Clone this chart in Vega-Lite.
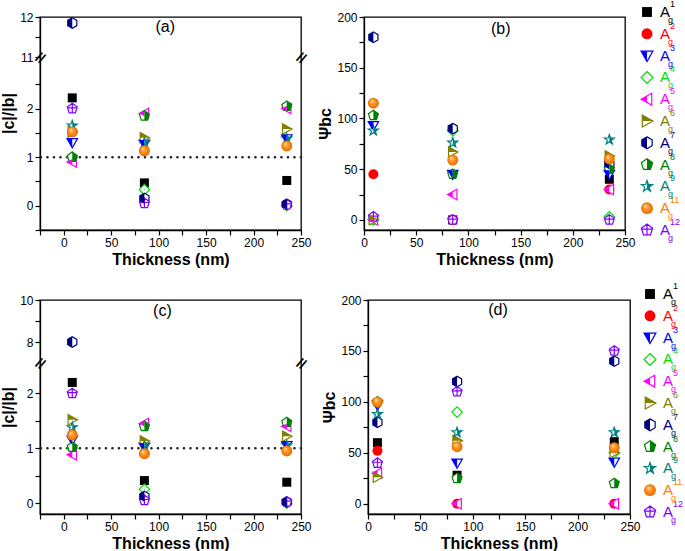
{
"$schema":"https://vega.github.io/schema/vega-lite/v6.json",
"padding":{"left":0,"top":0,"right":0,"bottom":0},
"datasets":{
"pts":[
{"p":"a","s":"1","t":9,"v":2.22},{"p":"a","s":"1","t":85,"v":0.47},{"p":"a","s":"1","t":235,"v":0.52},
{"p":"a","s":"2","t":9,"v":1.52},{"p":"a","s":"2","t":85,"v":1.13},{"p":"a","s":"2","t":235,"v":1.23},
{"p":"a","s":"3","t":9,"v":1.3},{"p":"a","s":"3","t":85,"v":1.27},{"p":"a","s":"3","t":235,"v":1.38},
{"p":"a","s":"4","t":9,"v":1.0},{"p":"a","s":"4","t":85,"v":0.33},{"p":"a","s":"4","t":235,"v":0.0},
{"p":"a","s":"5","t":9,"v":0.9},{"p":"a","s":"5","t":85,"v":1.9},{"p":"a","s":"5","t":235,"v":2.0},
{"p":"a","s":"6","t":9,"v":1.52},{"p":"a","s":"6","t":85,"v":1.4},{"p":"a","s":"6","t":235,"v":1.58},
{"p":"a","s":"7","t":9,"v":11.85},{"p":"a","s":"7","t":85,"v":0.15},{"p":"a","s":"7","t":235,"v":0.03},
{"p":"a","s":"8","t":9,"v":1.0},{"p":"a","s":"8","t":85,"v":1.85},{"p":"a","s":"8","t":235,"v":2.05},
{"p":"a","s":"9","t":9,"v":1.65},{"p":"a","s":"9","t":85,"v":1.3},{"p":"a","s":"9","t":235,"v":1.38},
{"p":"a","s":"11","t":9,"v":1.52},{"p":"a","s":"11","t":85,"v":1.13},{"p":"a","s":"11","t":235,"v":1.23},
{"p":"a","s":"12","t":9,"v":2.0},{"p":"a","s":"12","t":85,"v":0.05},{"p":"a","s":"12","t":235,"v":0.02},
{"p":"b","s":"1","t":9,"v":0},{"p":"b","s":"1","t":85,"v":0},{"p":"b","s":"1","t":235,"v":40},
{"p":"b","s":"2","t":9,"v":45},{"p":"b","s":"2","t":85,"v":0},{"p":"b","s":"2","t":235,"v":30},
{"p":"b","s":"3","t":9,"v":93},{"p":"b","s":"3","t":85,"v":45},{"p":"b","s":"3","t":235,"v":45},
{"p":"b","s":"4","t":9,"v":0},{"p":"b","s":"4","t":85,"v":88},{"p":"b","s":"4","t":235,"v":3},
{"p":"b","s":"5","t":9,"v":0},{"p":"b","s":"5","t":85,"v":25},{"p":"b","s":"5","t":235,"v":30},
{"p":"b","s":"6","t":9,"v":0},{"p":"b","s":"6","t":85,"v":67},{"p":"b","s":"6","t":235,"v":63},
{"p":"b","s":"7","t":9,"v":180},{"p":"b","s":"7","t":85,"v":90},{"p":"b","s":"7","t":235,"v":55},
{"p":"b","s":"8","t":9,"v":103},{"p":"b","s":"8","t":85,"v":45},{"p":"b","s":"8","t":235,"v":50},
{"p":"b","s":"9","t":9,"v":88},{"p":"b","s":"9","t":85,"v":76},{"p":"b","s":"9","t":235,"v":79},
{"p":"b","s":"11","t":9,"v":115},{"p":"b","s":"11","t":85,"v":59},{"p":"b","s":"11","t":235,"v":60},
{"p":"b","s":"12","t":9,"v":3},{"p":"b","s":"12","t":85,"v":0},{"p":"b","s":"12","t":235,"v":0},
{"p":"c","s":"1","t":9,"v":2.2},{"p":"c","s":"1","t":85,"v":0.41},{"p":"c","s":"1","t":235,"v":0.38},
{"p":"c","s":"2","t":9,"v":1.24},{"p":"c","s":"2","t":85,"v":0.9},{"p":"c","s":"2","t":235,"v":0.95},
{"p":"c","s":"3","t":9,"v":1.15},{"p":"c","s":"3","t":85,"v":1.02},{"p":"c","s":"3","t":235,"v":1.05},
{"p":"c","s":"4","t":9,"v":1.0},{"p":"c","s":"4","t":85,"v":0.25},{"p":"c","s":"4","t":235,"v":0.0},
{"p":"c","s":"5","t":9,"v":0.88},{"p":"c","s":"5","t":85,"v":1.45},{"p":"c","s":"5","t":235,"v":1.4},
{"p":"c","s":"6","t":9,"v":1.52},{"p":"c","s":"6","t":85,"v":1.13},{"p":"c","s":"6","t":235,"v":1.22},
{"p":"c","s":"7","t":9,"v":8.0},{"p":"c","s":"7","t":85,"v":0.12},{"p":"c","s":"7","t":235,"v":0.02},
{"p":"c","s":"8","t":9,"v":1.02},{"p":"c","s":"8","t":85,"v":1.4},{"p":"c","s":"8","t":235,"v":1.47},
{"p":"c","s":"9","t":9,"v":1.38},{"p":"c","s":"9","t":85,"v":1.05},{"p":"c","s":"9","t":235,"v":1.05},
{"p":"c","s":"11","t":9,"v":1.24},{"p":"c","s":"11","t":85,"v":0.9},{"p":"c","s":"11","t":235,"v":0.95},
{"p":"c","s":"12","t":9,"v":2.0},{"p":"c","s":"12","t":85,"v":0.05},{"p":"c","s":"12","t":235,"v":0.02},
{"p":"d","s":"1","t":9,"v":60},{"p":"d","s":"1","t":85,"v":28},{"p":"d","s":"1","t":235,"v":61},
{"p":"d","s":"2","t":9,"v":52},{"p":"d","s":"2","t":85,"v":0},{"p":"d","s":"2","t":235,"v":0},
{"p":"d","s":"3","t":9,"v":97},{"p":"d","s":"3","t":85,"v":40},{"p":"d","s":"3","t":235,"v":41},
{"p":"d","s":"4","t":9,"v":100},{"p":"d","s":"4","t":85,"v":90},{"p":"d","s":"4","t":235,"v":50},
{"p":"d","s":"5","t":9,"v":30},{"p":"d","s":"5","t":85,"v":0},{"p":"d","s":"5","t":235,"v":0},
{"p":"d","s":"6","t":9,"v":26},{"p":"d","s":"6","t":85,"v":62},{"p":"d","s":"6","t":235,"v":50},
{"p":"d","s":"7","t":9,"v":80},{"p":"d","s":"7","t":85,"v":120},{"p":"d","s":"7","t":235,"v":140},
{"p":"d","s":"8","t":9,"v":100},{"p":"d","s":"8","t":85,"v":25},{"p":"d","s":"8","t":235,"v":20},
{"p":"d","s":"9","t":9,"v":88},{"p":"d","s":"9","t":85,"v":70},{"p":"d","s":"9","t":235,"v":70},
{"p":"d","s":"11","t":9,"v":100},{"p":"d","s":"11","t":85,"v":56},{"p":"d","s":"11","t":235,"v":55},
{"p":"d","s":"12","t":9,"v":40},{"p":"d","s":"12","t":85,"v":110},{"p":"d","s":"12","t":235,"v":150}
],
"leg":[{"s":"1"},{"s":"2"},{"s":"3"},{"s":"4"},{"s":"5"},{"s":"6"},{"s":"7"},{"s":"8"},{"s":"9"},{"s":"11"},{"s":"12"}]
},
"config":{
"view":{"stroke":"#000","strokeWidth":1.3},
"legend":{"disable":true},
"font":"Liberation Sans",
"text":{"font":"Liberation Sans","color":"#000"},
"axis":{"domainColor":"#000","domainWidth":1.3,"tickColor":"#000","tickWidth":1.2,"tickSize":5,"labelFont":"Liberation Sans","labelFontSize":12,"labelColor":"#000","titleFont":"Liberation Sans","titleFontSize":16,"titleFontWeight":"bold","titleColor":"#000","grid":false,"labelPadding":2,"titlePadding":3,"labelOverlap":false,"labelFlush":false}
},
"spacing":14,
"resolve":{"scale":{"shape":"independent"}},
"vconcat":[
{"hconcat":[
  {"width":261,"height":213,"data":{"name":"pts"},"resolve":{"scale":{"shape":"independent"}},
   "layer":[
    {"data":{"values":[{}]},"mark":{"type":"rule","strokeWidth":2.5,"color":"#222","strokeDash":[0.1,6.4],"strokeCap":"round"},
     "encoding":{"y":{"datum":1,"type":"quantitative","scale":{"domain":[-0.5,3,11,12],"range":[213,43,40,0],"nice":false,"zero":false},"axis":{"values":[-0.5,0,0.5,1,1.5,2,2.5,11,11.5,12],"format":"d","labelExpr":"datum.value%1==0?datum.label:''","title":"|c|/|b|","titleY":96}}}},
    {"transform":[{"filter":"datum.p=='a'&&(datum.s=='1'||datum.s=='2')"}],"mark":{"type":"point","filled":true,"opacity":1,"strokeWidth":0,"size":100},
     "encoding":{"x":{"field":"t","type":"quantitative","scale":{"domain":[-25,250],"nice":false,"zero":false},"axis":{"values":[-25,0,25,50,75,100,125,150,175,200,225,250],"labelExpr":"datum.value>=0&&datum.value%50==0?datum.label:''","title":"Thickness (nm)"}},
      "y":{"field":"v","type":"quantitative","scale":{"domain":[-0.5,3,11,12],"range":[213,43,40,0],"nice":false,"zero":false},"axis":{"values":[-0.5,0,0.5,1,1.5,2,2.5,11,11.5,12],"format":"d","labelExpr":"datum.value%1==0?datum.label:''","title":"|c|/|b|","titleY":96}},
      "shape":{"field":"s","type":"nominal","scale":{"domain":["1","2"],"range":["M-0.9,-0.9L0.9,-0.9L0.9,0.9L-0.9,0.9Z","circle"]},"legend":null},
      "fill":{"field":"s","type":"nominal","scale":{"domain":["1","2","3","4","5","6","7","8","9","11","12"],"range":["#000000","#ff0000","#0000ff","#00dd00","#ff00ff","#808000","#000080","#008000","#008080","#ff8000","#8000ff"]},"legend":null}}},
    {"transform":[{"filter":"datum.p=='a'&&indexof(['3','4','5','6','7','8','9','12'],datum.s)>=0"}],"mark":{"type":"point","filled":true,"fill":"white","opacity":1,"strokeWidth":1.2,"size":110},
     "encoding":{"x":{"field":"t","type":"quantitative","scale":{"domain":[-25,250],"nice":false,"zero":false},"axis":{"values":[-25,0,25,50,75,100,125,150,175,200,225,250],"labelExpr":"datum.value>=0&&datum.value%50==0?datum.label:''","title":"Thickness (nm)"}},
      "y":{"field":"v","type":"quantitative","scale":{"domain":[-0.5,3,11,12],"range":[213,43,40,0],"nice":false,"zero":false},"axis":{"values":[-0.5,0,0.5,1,1.5,2,2.5,11,11.5,12],"format":"d","labelExpr":"datum.value%1==0?datum.label:''","title":"|c|/|b|","titleY":96}},
      "shape":{"field":"s","type":"nominal","scale":{"domain":["3","4","5","6","7","8","9","12"],"range":["M-1,-0.75L1,-0.75L0,1Z","M0,-1L1,0L0,1L-1,0ZM-0.06,0L0.06,0","M-1,0L0.8,-1L0.8,1Z","M1,0L-0.8,-1L-0.8,1Z","M0,-1L0.87,-0.5L0.87,0.5L0,1L-0.87,0.5L-0.87,-0.5Z","M0,-1L0.95,-0.31L0.59,0.81L-0.59,0.81L-0.95,-0.31Z","M0,-1L0.235,-0.324L0.951,-0.309L0.38,0.124L0.588,0.809L0,0.4L-0.588,0.809L-0.38,0.124L-0.951,-0.309L-0.235,-0.324Z","M0,-1L0.95,-0.31L0.59,0.81L-0.59,0.81L-0.95,-0.31ZM0,-1L0,0.81M-0.95,-0.15L0.95,-0.15"]},"legend":null},
      "stroke":{"field":"s","type":"nominal","scale":{"domain":["1","2","3","4","5","6","7","8","9","11","12"],"range":["#000000","#ff0000","#0000ff","#00dd00","#ff00ff","#808000","#000080","#008000","#008080","#ff8000","#8000ff"]},"legend":null}}},
    {"transform":[{"filter":"datum.p=='a'&&indexof(['3','5','6','7','8','9'],datum.s)>=0"}],"mark":{"type":"point","filled":true,"opacity":1,"strokeWidth":0,"size":110},
     "encoding":{"x":{"field":"t","type":"quantitative","scale":{"domain":[-25,250],"nice":false,"zero":false},"axis":{"values":[-25,0,25,50,75,100,125,150,175,200,225,250],"labelExpr":"datum.value>=0&&datum.value%50==0?datum.label:''","title":"Thickness (nm)"}},
      "y":{"field":"v","type":"quantitative","scale":{"domain":[-0.5,3,11,12],"range":[213,43,40,0],"nice":false,"zero":false},"axis":{"values":[-0.5,0,0.5,1,1.5,2,2.5,11,11.5,12],"format":"d","labelExpr":"datum.value%1==0?datum.label:''","title":"|c|/|b|","titleY":96}},
      "shape":{"field":"s","type":"nominal","scale":{"domain":["3","5","6","7","8","9"],"range":["M-1,-0.75L0,-0.75L0,1Z","M-1,0L0,-0.556L0,0.556Z","M1,0L-0.8,-1L-0.8,0Z","M0,-1L-0.87,-0.5L-0.87,0.5L0,1Z","M0,-1L0.95,-0.31L0.59,0.81L0,0.81Z","M0,-1L0.235,-0.324L0.951,-0.309L0.38,0.124L0.588,0.809L0,0.4Z"]},"legend":null},
      "fill":{"field":"s","type":"nominal","scale":{"domain":["1","2","3","4","5","6","7","8","9","11","12"],"range":["#000000","#ff0000","#0000ff","#00dd00","#ff00ff","#808000","#000080","#008000","#008080","#ff8000","#8000ff"]},"legend":null}}},
    {"transform":[{"filter":"datum.p=='a'&&datum.s=='11'"}],"mark":{"type":"point","shape":"circle","filled":true,"opacity":1,"strokeWidth":0,"size":120,"fill":{"gradient":"radial","x1":0.35,"y1":0.3,"r1":0,"x2":0.5,"y2":0.5,"r2":0.5,"stops":[{"offset":0,"color":"#fff0d8"},{"offset":0.35,"color":"#ffa030"},{"offset":1,"color":"#e86a00"}]}},
     "encoding":{"x":{"field":"t","type":"quantitative","scale":{"domain":[-25,250],"nice":false,"zero":false},"axis":{"values":[-25,0,25,50,75,100,125,150,175,200,225,250],"labelExpr":"datum.value>=0&&datum.value%50==0?datum.label:''","title":"Thickness (nm)"}},
      "y":{"field":"v","type":"quantitative","scale":{"domain":[-0.5,3,11,12],"range":[213,43,40,0],"nice":false,"zero":false},"axis":{"values":[-0.5,0,0.5,1,1.5,2,2.5,11,11.5,12],"format":"d","labelExpr":"datum.value%1==0?datum.label:''","title":"|c|/|b|","titleY":96}}}},
    {"data":{"values":[{"t":-25},{"t":250}]},"mark":{"type":"text","text":"//","fontSize":14,"fontWeight":"bold","angle":30,"baseline":"middle","clip":false},
     "encoding":{"x":{"field":"t","type":"quantitative","scale":{"domain":[-25,250],"nice":false,"zero":false},"axis":{"values":[-25,0,25,50,75,100,125,150,175,200,225,250],"labelExpr":"datum.value>=0&&datum.value%50==0?datum.label:''","title":"Thickness (nm)"}},
      "y":{"datum":7,"type":"quantitative","scale":{"domain":[-0.5,3,11,12],"range":[213,43,40,0],"nice":false,"zero":false},"axis":{"values":[-0.5,0,0.5,1,1.5,2,2.5,11,11.5,12],"format":"d","labelExpr":"datum.value%1==0?datum.label:''","title":"|c|/|b|","titleY":96}}}},
    {"data":{"values":[{}]},"mark":{"type":"text","fontSize":16,"baseline":"middle"},
     "encoding":{"x":{"datum":107,"type":"quantitative","scale":{"domain":[-25,250],"nice":false,"zero":false},"axis":{"values":[-25,0,25,50,75,100,125,150,175,200,225,250],"labelExpr":"datum.value>=0&&datum.value%50==0?datum.label:''","title":"Thickness (nm)"}},
      "y":{"datum":11.75,"type":"quantitative","scale":{"domain":[-0.5,3,11,12],"range":[213,43,40,0],"nice":false,"zero":false},"axis":{"values":[-0.5,0,0.5,1,1.5,2,2.5,11,11.5,12],"format":"d","labelExpr":"datum.value%1==0?datum.label:''","title":"|c|/|b|","titleY":96}},
      "text":{"value":"(a)"}}}
   ]},
 {"hconcat":[
  {"width":261,"height":213,"data":{"name":"pts"},"resolve":{"scale":{"shape":"independent"}},
   "layer":[
    {"transform":[{"filter":"datum.p=='b'&&(datum.s=='1'||datum.s=='2')"}],"mark":{"type":"point","filled":true,"opacity":1,"strokeWidth":0,"size":100},
     "encoding":{"x":{"field":"t","type":"quantitative","scale":{"domain":[0,250],"nice":false,"zero":false},"axis":{"values":[0,25,50,75,100,125,150,175,200,225,250],"labelExpr":"datum.value%50==0?datum.label:''","title":"Thickness (nm)"}},
      "y":{"field":"v","type":"quantitative","scale":{"domain":[-10,200],"nice":false,"zero":false},"axis":{"values":[0,25,50,75,100,125,150,175,200],"labelExpr":"datum.value%50==0?datum.label:''","title":"Ψbc"}},
      "shape":{"field":"s","type":"nominal","scale":{"domain":["1","2"],"range":["M-0.9,-0.9L0.9,-0.9L0.9,0.9L-0.9,0.9Z","circle"]},"legend":null},
      "fill":{"field":"s","type":"nominal","scale":{"domain":["1","2","3","4","5","6","7","8","9","11","12"],"range":["#000000","#ff0000","#0000ff","#00dd00","#ff00ff","#808000","#000080","#008000","#008080","#ff8000","#8000ff"]},"legend":null}}},
    {"transform":[{"filter":"datum.p=='b'&&indexof(['3','4','5','6','7','8','9','12'],datum.s)>=0"}],"mark":{"type":"point","filled":true,"fill":"white","opacity":1,"strokeWidth":1.2,"size":110},
     "encoding":{"x":{"field":"t","type":"quantitative","scale":{"domain":[0,250],"nice":false,"zero":false},"axis":{"values":[0,25,50,75,100,125,150,175,200,225,250],"labelExpr":"datum.value%50==0?datum.label:''","title":"Thickness (nm)"}},
      "y":{"field":"v","type":"quantitative","scale":{"domain":[-10,200],"nice":false,"zero":false},"axis":{"values":[0,25,50,75,100,125,150,175,200],"labelExpr":"datum.value%50==0?datum.label:''","title":"Ψbc"}},
      "shape":{"field":"s","type":"nominal","scale":{"domain":["3","4","5","6","7","8","9","12"],"range":["M-1,-0.75L1,-0.75L0,1Z","M0,-1L1,0L0,1L-1,0ZM-0.06,0L0.06,0","M-1,0L0.8,-1L0.8,1Z","M1,0L-0.8,-1L-0.8,1Z","M0,-1L0.87,-0.5L0.87,0.5L0,1L-0.87,0.5L-0.87,-0.5Z","M0,-1L0.95,-0.31L0.59,0.81L-0.59,0.81L-0.95,-0.31Z","M0,-1L0.235,-0.324L0.951,-0.309L0.38,0.124L0.588,0.809L0,0.4L-0.588,0.809L-0.38,0.124L-0.951,-0.309L-0.235,-0.324Z","M0,-1L0.95,-0.31L0.59,0.81L-0.59,0.81L-0.95,-0.31ZM0,-1L0,0.81M-0.95,-0.15L0.95,-0.15"]},"legend":null},
      "stroke":{"field":"s","type":"nominal","scale":{"domain":["1","2","3","4","5","6","7","8","9","11","12"],"range":["#000000","#ff0000","#0000ff","#00dd00","#ff00ff","#808000","#000080","#008000","#008080","#ff8000","#8000ff"]},"legend":null}}},
    {"transform":[{"filter":"datum.p=='b'&&indexof(['3','5','6','7','8','9'],datum.s)>=0"}],"mark":{"type":"point","filled":true,"opacity":1,"strokeWidth":0,"size":110},
     "encoding":{"x":{"field":"t","type":"quantitative","scale":{"domain":[0,250],"nice":false,"zero":false},"axis":{"values":[0,25,50,75,100,125,150,175,200,225,250],"labelExpr":"datum.value%50==0?datum.label:''","title":"Thickness (nm)"}},
      "y":{"field":"v","type":"quantitative","scale":{"domain":[-10,200],"nice":false,"zero":false},"axis":{"values":[0,25,50,75,100,125,150,175,200],"labelExpr":"datum.value%50==0?datum.label:''","title":"Ψbc"}},
      "shape":{"field":"s","type":"nominal","scale":{"domain":["3","5","6","7","8","9"],"range":["M-1,-0.75L0,-0.75L0,1Z","M-1,0L0,-0.556L0,0.556Z","M1,0L-0.8,-1L-0.8,0Z","M0,-1L-0.87,-0.5L-0.87,0.5L0,1Z","M0,-1L0.95,-0.31L0.59,0.81L0,0.81Z","M0,-1L0.235,-0.324L0.951,-0.309L0.38,0.124L0.588,0.809L0,0.4Z"]},"legend":null},
      "fill":{"field":"s","type":"nominal","scale":{"domain":["1","2","3","4","5","6","7","8","9","11","12"],"range":["#000000","#ff0000","#0000ff","#00dd00","#ff00ff","#808000","#000080","#008000","#008080","#ff8000","#8000ff"]},"legend":null}}},
    {"transform":[{"filter":"datum.p=='b'&&datum.s=='11'"}],"mark":{"type":"point","shape":"circle","filled":true,"opacity":1,"strokeWidth":0,"size":120,"fill":{"gradient":"radial","x1":0.35,"y1":0.3,"r1":0,"x2":0.5,"y2":0.5,"r2":0.5,"stops":[{"offset":0,"color":"#fff0d8"},{"offset":0.35,"color":"#ffa030"},{"offset":1,"color":"#e86a00"}]}},
     "encoding":{"x":{"field":"t","type":"quantitative","scale":{"domain":[0,250],"nice":false,"zero":false},"axis":{"values":[0,25,50,75,100,125,150,175,200,225,250],"labelExpr":"datum.value%50==0?datum.label:''","title":"Thickness (nm)"}},
      "y":{"field":"v","type":"quantitative","scale":{"domain":[-10,200],"nice":false,"zero":false},"axis":{"values":[0,25,50,75,100,125,150,175,200],"labelExpr":"datum.value%50==0?datum.label:''","title":"Ψbc"}}}},
    {"data":{"values":[{}]},"mark":{"type":"text","fontSize":16,"baseline":"middle"},
     "encoding":{"x":{"datum":131,"type":"quantitative","scale":{"domain":[0,250],"nice":false,"zero":false},"axis":{"values":[0,25,50,75,100,125,150,175,200,225,250],"labelExpr":"datum.value%50==0?datum.label:''","title":"Thickness (nm)"}},
      "y":{"datum":188.5,"type":"quantitative","scale":{"domain":[-10,200],"nice":false,"zero":false},"axis":{"values":[0,25,50,75,100,125,150,175,200],"labelExpr":"datum.value%50==0?datum.label:''","title":"Ψbc"}},
      "text":{"value":"(b)"}}}
   ]},
  {"width":40,"height":213,"data":{"name":"leg"},"view":{"stroke":null},"resolve":{"scale":{"shape":"independent"}},
   "layer":[
    {"transform":[{"filter":"datum.s=='1'||datum.s=='2'"}],"mark":{"type":"point","filled":true,"opacity":1,"strokeWidth":0,"size":120},
     "encoding":{"y":{"field":"s","type":"nominal","scale":{"type":"point","domain":["1","2","3","4","5","6","7","8","9","11","12"],"range":[-5,213],"padding":0},"axis":null},
      "shape":{"field":"s","type":"nominal","scale":{"domain":["1","2"],"range":["M-0.9,-0.9L0.9,-0.9L0.9,0.9L-0.9,0.9Z","circle"]},"legend":null},
      "fill":{"field":"s","type":"nominal","scale":{"domain":["1","2","3","4","5","6","7","8","9","11","12"],"range":["#000000","#ff0000","#0000ff","#00dd00","#ff00ff","#808000","#000080","#008000","#008080","#ff8000","#8000ff"]},"legend":null}}},
    {"transform":[{"filter":"indexof(['3','4','5','6','7','8','9','12'],datum.s)>=0"}],"mark":{"type":"point","filled":true,"fill":"white","opacity":1,"strokeWidth":1.2,"size":140},
     "encoding":{"y":{"field":"s","type":"nominal","scale":{"type":"point","domain":["1","2","3","4","5","6","7","8","9","11","12"],"range":[-5,213],"padding":0},"axis":null},
      "shape":{"field":"s","type":"nominal","scale":{"domain":["3","4","5","6","7","8","9","12"],"range":["M-1,-0.75L1,-0.75L0,1Z","M0,-1L1,0L0,1L-1,0ZM-0.06,0L0.06,0","M-1,0L0.8,-1L0.8,1Z","M1,0L-0.8,-1L-0.8,1Z","M0,-1L0.87,-0.5L0.87,0.5L0,1L-0.87,0.5L-0.87,-0.5Z","M0,-1L0.95,-0.31L0.59,0.81L-0.59,0.81L-0.95,-0.31Z","M0,-1L0.235,-0.324L0.951,-0.309L0.38,0.124L0.588,0.809L0,0.4L-0.588,0.809L-0.38,0.124L-0.951,-0.309L-0.235,-0.324Z","M0,-1L0.95,-0.31L0.59,0.81L-0.59,0.81L-0.95,-0.31ZM0,-1L0,0.81M-0.95,-0.15L0.95,-0.15"]},"legend":null},
      "stroke":{"field":"s","type":"nominal","scale":{"domain":["1","2","3","4","5","6","7","8","9","11","12"],"range":["#000000","#ff0000","#0000ff","#00dd00","#ff00ff","#808000","#000080","#008000","#008080","#ff8000","#8000ff"]},"legend":null}}},
    {"transform":[{"filter":"indexof(['3','5','6','7','8','9'],datum.s)>=0"}],"mark":{"type":"point","filled":true,"opacity":1,"strokeWidth":0,"size":140},
     "encoding":{"y":{"field":"s","type":"nominal","scale":{"type":"point","domain":["1","2","3","4","5","6","7","8","9","11","12"],"range":[-5,213],"padding":0},"axis":null},
      "shape":{"field":"s","type":"nominal","scale":{"domain":["3","5","6","7","8","9"],"range":["M-1,-0.75L0,-0.75L0,1Z","M-1,0L0,-0.556L0,0.556Z","M1,0L-0.8,-1L-0.8,0Z","M0,-1L-0.87,-0.5L-0.87,0.5L0,1Z","M0,-1L0.95,-0.31L0.59,0.81L0,0.81Z","M0,-1L0.235,-0.324L0.951,-0.309L0.38,0.124L0.588,0.809L0,0.4Z"]},"legend":null},
      "fill":{"field":"s","type":"nominal","scale":{"domain":["1","2","3","4","5","6","7","8","9","11","12"],"range":["#000000","#ff0000","#0000ff","#00dd00","#ff00ff","#808000","#000080","#008000","#008080","#ff8000","#8000ff"]},"legend":null}}},
    {"transform":[{"filter":"datum.s=='11'"}],"mark":{"type":"point","shape":"circle","filled":true,"opacity":1,"strokeWidth":0,"size":140,"fill":{"gradient":"radial","x1":0.35,"y1":0.3,"r1":0,"x2":0.5,"y2":0.5,"r2":0.5,"stops":[{"offset":0,"color":"#fff0d8"},{"offset":0.35,"color":"#ffa030"},{"offset":1,"color":"#e86a00"}]}},
     "encoding":{"y":{"field":"s","type":"nominal","scale":{"type":"point","domain":["1","2","3","4","5","6","7","8","9","11","12"],"range":[-5,213],"padding":0},"axis":null}}},
    {"mark":{"type":"text","fontSize":15,"dx":18,"align":"center","baseline":"middle"},
     "encoding":{"y":{"field":"s","type":"nominal","scale":{"type":"point","domain":["1","2","3","4","5","6","7","8","9","11","12"],"range":[-5,213],"padding":0},"axis":null},"text":{"value":"A"},
      "fill":{"field":"s","type":"nominal","scale":{"domain":["1","2","3","4","5","6","7","8","9","11","12"],"range":["#000000","#ff0000","#0000ff","#00dd00","#ff00ff","#808000","#000080","#008000","#008080","#ff8000","#8000ff"]},"legend":null}}},
    {"mark":{"type":"text","fontSize":9,"dx":23,"dy":-8,"align":"left","baseline":"middle"},
     "encoding":{"y":{"field":"s","type":"nominal","scale":{"type":"point","domain":["1","2","3","4","5","6","7","8","9","11","12"],"range":[-5,213],"padding":0},"axis":null},"text":{"field":"s"},
      "fill":{"field":"s","type":"nominal","scale":{"domain":["1","2","3","4","5","6","7","8","9","11","12"],"range":["#000000","#ff0000","#0000ff","#00dd00","#ff00ff","#808000","#000080","#008000","#008080","#ff8000","#8000ff"]},"legend":null}}},
    {"mark":{"type":"text","fontSize":9,"dx":21,"dy":8,"align":"left","baseline":"middle"},
     "encoding":{"y":{"field":"s","type":"nominal","scale":{"type":"point","domain":["1","2","3","4","5","6","7","8","9","11","12"],"range":[-5,213],"padding":0},"axis":null},"text":{"value":"g"},
      "fill":{"field":"s","type":"nominal","scale":{"domain":["1","2","3","4","5","6","7","8","9","11","12"],"range":["#000000","#ff0000","#0000ff","#00dd00","#ff00ff","#808000","#000080","#008000","#008080","#ff8000","#8000ff"]},"legend":null}}}
   ]}
 ],"spacing":2,"bounds":"flush","resolve":{"scale":{"shape":"independent"}}}
],"spacing":5,"resolve":{"scale":{"shape":"independent"}}},
{"hconcat":[
  {"width":261,"height":214,"data":{"name":"pts"},"resolve":{"scale":{"shape":"independent"}},
   "layer":[
    {"data":{"values":[{}]},"mark":{"type":"rule","strokeWidth":2.5,"color":"#222","strokeDash":[0.1,6.4],"strokeCap":"round"},
     "encoding":{"y":{"datum":1,"type":"quantitative","scale":{"domain":[-0.2,2.5,7,10],"range":[214,66,63,0],"nice":false,"zero":false},"axis":{"values":[0,0.5,1,1.5,2,8,9,10],"format":"d","labelExpr":"datum.value%1==0&&datum.value!=9?datum.label:''","title":"|c|/|b|"}}}},
    {"transform":[{"filter":"datum.p=='c'&&(datum.s=='1'||datum.s=='2')"}],"mark":{"type":"point","filled":true,"opacity":1,"strokeWidth":0,"size":100},
     "encoding":{"x":{"field":"t","type":"quantitative","scale":{"domain":[-25,250],"nice":false,"zero":false},"axis":{"values":[-25,0,25,50,75,100,125,150,175,200,225,250],"labelExpr":"datum.value>=0&&datum.value%50==0?datum.label:''","title":"Thickness (nm)"}},
      "y":{"field":"v","type":"quantitative","scale":{"domain":[-0.2,2.5,7,10],"range":[214,66,63,0],"nice":false,"zero":false},"axis":{"values":[0,0.5,1,1.5,2,8,9,10],"format":"d","labelExpr":"datum.value%1==0&&datum.value!=9?datum.label:''","title":"|c|/|b|"}},
      "shape":{"field":"s","type":"nominal","scale":{"domain":["1","2"],"range":["M-0.9,-0.9L0.9,-0.9L0.9,0.9L-0.9,0.9Z","circle"]},"legend":null},
      "fill":{"field":"s","type":"nominal","scale":{"domain":["1","2","3","4","5","6","7","8","9","11","12"],"range":["#000000","#ff0000","#0000ff","#00dd00","#ff00ff","#808000","#000080","#008000","#008080","#ff8000","#8000ff"]},"legend":null}}},
    {"transform":[{"filter":"datum.p=='c'&&indexof(['3','4','5','6','7','8','9','12'],datum.s)>=0"}],"mark":{"type":"point","filled":true,"fill":"white","opacity":1,"strokeWidth":1.2,"size":110},
     "encoding":{"x":{"field":"t","type":"quantitative","scale":{"domain":[-25,250],"nice":false,"zero":false},"axis":{"values":[-25,0,25,50,75,100,125,150,175,200,225,250],"labelExpr":"datum.value>=0&&datum.value%50==0?datum.label:''","title":"Thickness (nm)"}},
      "y":{"field":"v","type":"quantitative","scale":{"domain":[-0.2,2.5,7,10],"range":[214,66,63,0],"nice":false,"zero":false},"axis":{"values":[0,0.5,1,1.5,2,8,9,10],"format":"d","labelExpr":"datum.value%1==0&&datum.value!=9?datum.label:''","title":"|c|/|b|"}},
      "shape":{"field":"s","type":"nominal","scale":{"domain":["3","4","5","6","7","8","9","12"],"range":["M-1,-0.75L1,-0.75L0,1Z","M0,-1L1,0L0,1L-1,0ZM-0.06,0L0.06,0","M-1,0L0.8,-1L0.8,1Z","M1,0L-0.8,-1L-0.8,1Z","M0,-1L0.87,-0.5L0.87,0.5L0,1L-0.87,0.5L-0.87,-0.5Z","M0,-1L0.95,-0.31L0.59,0.81L-0.59,0.81L-0.95,-0.31Z","M0,-1L0.235,-0.324L0.951,-0.309L0.38,0.124L0.588,0.809L0,0.4L-0.588,0.809L-0.38,0.124L-0.951,-0.309L-0.235,-0.324Z","M0,-1L0.95,-0.31L0.59,0.81L-0.59,0.81L-0.95,-0.31ZM0,-1L0,0.81M-0.95,-0.15L0.95,-0.15"]},"legend":null},
      "stroke":{"field":"s","type":"nominal","scale":{"domain":["1","2","3","4","5","6","7","8","9","11","12"],"range":["#000000","#ff0000","#0000ff","#00dd00","#ff00ff","#808000","#000080","#008000","#008080","#ff8000","#8000ff"]},"legend":null}}},
    {"transform":[{"filter":"datum.p=='c'&&indexof(['3','5','6','7','8','9'],datum.s)>=0"}],"mark":{"type":"point","filled":true,"opacity":1,"strokeWidth":0,"size":110},
     "encoding":{"x":{"field":"t","type":"quantitative","scale":{"domain":[-25,250],"nice":false,"zero":false},"axis":{"values":[-25,0,25,50,75,100,125,150,175,200,225,250],"labelExpr":"datum.value>=0&&datum.value%50==0?datum.label:''","title":"Thickness (nm)"}},
      "y":{"field":"v","type":"quantitative","scale":{"domain":[-0.2,2.5,7,10],"range":[214,66,63,0],"nice":false,"zero":false},"axis":{"values":[0,0.5,1,1.5,2,8,9,10],"format":"d","labelExpr":"datum.value%1==0&&datum.value!=9?datum.label:''","title":"|c|/|b|"}},
      "shape":{"field":"s","type":"nominal","scale":{"domain":["3","5","6","7","8","9"],"range":["M-1,-0.75L0,-0.75L0,1Z","M-1,0L0,-0.556L0,0.556Z","M1,0L-0.8,-1L-0.8,0Z","M0,-1L-0.87,-0.5L-0.87,0.5L0,1Z","M0,-1L0.95,-0.31L0.59,0.81L0,0.81Z","M0,-1L0.235,-0.324L0.951,-0.309L0.38,0.124L0.588,0.809L0,0.4Z"]},"legend":null},
      "fill":{"field":"s","type":"nominal","scale":{"domain":["1","2","3","4","5","6","7","8","9","11","12"],"range":["#000000","#ff0000","#0000ff","#00dd00","#ff00ff","#808000","#000080","#008000","#008080","#ff8000","#8000ff"]},"legend":null}}},
    {"transform":[{"filter":"datum.p=='c'&&datum.s=='11'"}],"mark":{"type":"point","shape":"circle","filled":true,"opacity":1,"strokeWidth":0,"size":120,"fill":{"gradient":"radial","x1":0.35,"y1":0.3,"r1":0,"x2":0.5,"y2":0.5,"r2":0.5,"stops":[{"offset":0,"color":"#fff0d8"},{"offset":0.35,"color":"#ffa030"},{"offset":1,"color":"#e86a00"}]}},
     "encoding":{"x":{"field":"t","type":"quantitative","scale":{"domain":[-25,250],"nice":false,"zero":false},"axis":{"values":[-25,0,25,50,75,100,125,150,175,200,225,250],"labelExpr":"datum.value>=0&&datum.value%50==0?datum.label:''","title":"Thickness (nm)"}},
      "y":{"field":"v","type":"quantitative","scale":{"domain":[-0.2,2.5,7,10],"range":[214,66,63,0],"nice":false,"zero":false},"axis":{"values":[0,0.5,1,1.5,2,8,9,10],"format":"d","labelExpr":"datum.value%1==0&&datum.value!=9?datum.label:''","title":"|c|/|b|"}}}},
    {"data":{"values":[{"t":-25},{"t":250}]},"mark":{"type":"text","text":"//","fontSize":14,"fontWeight":"bold","angle":30,"baseline":"middle","clip":false},
     "encoding":{"x":{"field":"t","type":"quantitative","scale":{"domain":[-25,250],"nice":false,"zero":false},"axis":{"values":[-25,0,25,50,75,100,125,150,175,200,225,250],"labelExpr":"datum.value>=0&&datum.value%50==0?datum.label:''","title":"Thickness (nm)"}},
      "y":{"datum":5,"type":"quantitative","scale":{"domain":[-0.2,2.5,7,10],"range":[214,66,63,0],"nice":false,"zero":false},"axis":{"values":[0,0.5,1,1.5,2,8,9,10],"format":"d","labelExpr":"datum.value%1==0&&datum.value!=9?datum.label:''","title":"|c|/|b|"}}}},
    {"data":{"values":[{}]},"mark":{"type":"text","fontSize":16,"baseline":"middle"},
     "encoding":{"x":{"datum":104,"type":"quantitative","scale":{"domain":[-25,250],"nice":false,"zero":false},"axis":{"values":[-25,0,25,50,75,100,125,150,175,200,225,250],"labelExpr":"datum.value>=0&&datum.value%50==0?datum.label:''","title":"Thickness (nm)"}},
      "y":{"datum":9.5,"type":"quantitative","scale":{"domain":[-0.2,2.5,7,10],"range":[214,66,63,0],"nice":false,"zero":false},"axis":{"values":[0,0.5,1,1.5,2,8,9,10],"format":"d","labelExpr":"datum.value%1==0&&datum.value!=9?datum.label:''","title":"|c|/|b|"}},
      "text":{"value":"(c)"}}}
   ]},
 {"hconcat":[
  {"width":262,"height":214,"data":{"name":"pts"},"resolve":{"scale":{"shape":"independent"}},
   "layer":[
    {"transform":[{"filter":"datum.p=='d'&&(datum.s=='1'||datum.s=='2')"}],"mark":{"type":"point","filled":true,"opacity":1,"strokeWidth":0,"size":100},
     "encoding":{"x":{"field":"t","type":"quantitative","scale":{"domain":[0,250],"nice":false,"zero":false},"axis":{"values":[0,25,50,75,100,125,150,175,200,225,250],"labelExpr":"datum.value%50==0?datum.label:''","title":"Thickness (nm)"}},
      "y":{"field":"v","type":"quantitative","scale":{"domain":[-10,200],"nice":false,"zero":false},"axis":{"values":[0,25,50,75,100,125,150,175,200],"labelExpr":"datum.value%50==0?datum.label:''","title":"Ψbc"}},
      "shape":{"field":"s","type":"nominal","scale":{"domain":["1","2"],"range":["M-0.9,-0.9L0.9,-0.9L0.9,0.9L-0.9,0.9Z","circle"]},"legend":null},
      "fill":{"field":"s","type":"nominal","scale":{"domain":["1","2","3","4","5","6","7","8","9","11","12"],"range":["#000000","#ff0000","#0000ff","#00dd00","#ff00ff","#808000","#000080","#008000","#008080","#ff8000","#8000ff"]},"legend":null}}},
    {"transform":[{"filter":"datum.p=='d'&&indexof(['3','4','5','6','7','8','9','12'],datum.s)>=0"}],"mark":{"type":"point","filled":true,"fill":"white","opacity":1,"strokeWidth":1.2,"size":110},
     "encoding":{"x":{"field":"t","type":"quantitative","scale":{"domain":[0,250],"nice":false,"zero":false},"axis":{"values":[0,25,50,75,100,125,150,175,200,225,250],"labelExpr":"datum.value%50==0?datum.label:''","title":"Thickness (nm)"}},
      "y":{"field":"v","type":"quantitative","scale":{"domain":[-10,200],"nice":false,"zero":false},"axis":{"values":[0,25,50,75,100,125,150,175,200],"labelExpr":"datum.value%50==0?datum.label:''","title":"Ψbc"}},
      "shape":{"field":"s","type":"nominal","scale":{"domain":["3","4","5","6","7","8","9","12"],"range":["M-1,-0.75L1,-0.75L0,1Z","M0,-1L1,0L0,1L-1,0ZM-0.06,0L0.06,0","M-1,0L0.8,-1L0.8,1Z","M1,0L-0.8,-1L-0.8,1Z","M0,-1L0.87,-0.5L0.87,0.5L0,1L-0.87,0.5L-0.87,-0.5Z","M0,-1L0.95,-0.31L0.59,0.81L-0.59,0.81L-0.95,-0.31Z","M0,-1L0.235,-0.324L0.951,-0.309L0.38,0.124L0.588,0.809L0,0.4L-0.588,0.809L-0.38,0.124L-0.951,-0.309L-0.235,-0.324Z","M0,-1L0.95,-0.31L0.59,0.81L-0.59,0.81L-0.95,-0.31ZM0,-1L0,0.81M-0.95,-0.15L0.95,-0.15"]},"legend":null},
      "stroke":{"field":"s","type":"nominal","scale":{"domain":["1","2","3","4","5","6","7","8","9","11","12"],"range":["#000000","#ff0000","#0000ff","#00dd00","#ff00ff","#808000","#000080","#008000","#008080","#ff8000","#8000ff"]},"legend":null}}},
    {"transform":[{"filter":"datum.p=='d'&&indexof(['3','5','6','7','8','9'],datum.s)>=0"}],"mark":{"type":"point","filled":true,"opacity":1,"strokeWidth":0,"size":110},
     "encoding":{"x":{"field":"t","type":"quantitative","scale":{"domain":[0,250],"nice":false,"zero":false},"axis":{"values":[0,25,50,75,100,125,150,175,200,225,250],"labelExpr":"datum.value%50==0?datum.label:''","title":"Thickness (nm)"}},
      "y":{"field":"v","type":"quantitative","scale":{"domain":[-10,200],"nice":false,"zero":false},"axis":{"values":[0,25,50,75,100,125,150,175,200],"labelExpr":"datum.value%50==0?datum.label:''","title":"Ψbc"}},
      "shape":{"field":"s","type":"nominal","scale":{"domain":["3","5","6","7","8","9"],"range":["M-1,-0.75L0,-0.75L0,1Z","M-1,0L0,-0.556L0,0.556Z","M1,0L-0.8,-1L-0.8,0Z","M0,-1L-0.87,-0.5L-0.87,0.5L0,1Z","M0,-1L0.95,-0.31L0.59,0.81L0,0.81Z","M0,-1L0.235,-0.324L0.951,-0.309L0.38,0.124L0.588,0.809L0,0.4Z"]},"legend":null},
      "fill":{"field":"s","type":"nominal","scale":{"domain":["1","2","3","4","5","6","7","8","9","11","12"],"range":["#000000","#ff0000","#0000ff","#00dd00","#ff00ff","#808000","#000080","#008000","#008080","#ff8000","#8000ff"]},"legend":null}}},
    {"transform":[{"filter":"datum.p=='d'&&datum.s=='11'"}],"mark":{"type":"point","shape":"circle","filled":true,"opacity":1,"strokeWidth":0,"size":120,"fill":{"gradient":"radial","x1":0.35,"y1":0.3,"r1":0,"x2":0.5,"y2":0.5,"r2":0.5,"stops":[{"offset":0,"color":"#fff0d8"},{"offset":0.35,"color":"#ffa030"},{"offset":1,"color":"#e86a00"}]}},
     "encoding":{"x":{"field":"t","type":"quantitative","scale":{"domain":[0,250],"nice":false,"zero":false},"axis":{"values":[0,25,50,75,100,125,150,175,200,225,250],"labelExpr":"datum.value%50==0?datum.label:''","title":"Thickness (nm)"}},
      "y":{"field":"v","type":"quantitative","scale":{"domain":[-10,200],"nice":false,"zero":false},"axis":{"values":[0,25,50,75,100,125,150,175,200],"labelExpr":"datum.value%50==0?datum.label:''","title":"Ψbc"}}}},
    {"data":{"values":[{}]},"mark":{"type":"text","fontSize":16,"baseline":"middle"},
     "encoding":{"x":{"datum":124,"type":"quantitative","scale":{"domain":[0,250],"nice":false,"zero":false},"axis":{"values":[0,25,50,75,100,125,150,175,200,225,250],"labelExpr":"datum.value%50==0?datum.label:''","title":"Thickness (nm)"}},
      "y":{"datum":190,"type":"quantitative","scale":{"domain":[-10,200],"nice":false,"zero":false},"axis":{"values":[0,25,50,75,100,125,150,175,200],"labelExpr":"datum.value%50==0?datum.label:''","title":"Ψbc"}},
      "text":{"value":"(d)"}}}
   ]},
  {"width":40,"height":214,"data":{"name":"leg"},"view":{"stroke":null},"resolve":{"scale":{"shape":"independent"}},
   "layer":[
    {"transform":[{"filter":"datum.s=='1'||datum.s=='2'"}],"mark":{"type":"point","filled":true,"opacity":1,"strokeWidth":0,"size":120},
     "encoding":{"y":{"field":"s","type":"nominal","scale":{"type":"point","domain":["1","2","3","4","5","6","7","8","9","11","12"],"range":[-6,212],"padding":0},"axis":null},
      "shape":{"field":"s","type":"nominal","scale":{"domain":["1","2"],"range":["M-0.9,-0.9L0.9,-0.9L0.9,0.9L-0.9,0.9Z","circle"]},"legend":null},
      "fill":{"field":"s","type":"nominal","scale":{"domain":["1","2","3","4","5","6","7","8","9","11","12"],"range":["#000000","#ff0000","#0000ff","#00dd00","#ff00ff","#808000","#000080","#008000","#008080","#ff8000","#8000ff"]},"legend":null}}},
    {"transform":[{"filter":"indexof(['3','4','5','6','7','8','9','12'],datum.s)>=0"}],"mark":{"type":"point","filled":true,"fill":"white","opacity":1,"strokeWidth":1.2,"size":140},
     "encoding":{"y":{"field":"s","type":"nominal","scale":{"type":"point","domain":["1","2","3","4","5","6","7","8","9","11","12"],"range":[-6,212],"padding":0},"axis":null},
      "shape":{"field":"s","type":"nominal","scale":{"domain":["3","4","5","6","7","8","9","12"],"range":["M-1,-0.75L1,-0.75L0,1Z","M0,-1L1,0L0,1L-1,0ZM-0.06,0L0.06,0","M-1,0L0.8,-1L0.8,1Z","M1,0L-0.8,-1L-0.8,1Z","M0,-1L0.87,-0.5L0.87,0.5L0,1L-0.87,0.5L-0.87,-0.5Z","M0,-1L0.95,-0.31L0.59,0.81L-0.59,0.81L-0.95,-0.31Z","M0,-1L0.235,-0.324L0.951,-0.309L0.38,0.124L0.588,0.809L0,0.4L-0.588,0.809L-0.38,0.124L-0.951,-0.309L-0.235,-0.324Z","M0,-1L0.95,-0.31L0.59,0.81L-0.59,0.81L-0.95,-0.31ZM0,-1L0,0.81M-0.95,-0.15L0.95,-0.15"]},"legend":null},
      "stroke":{"field":"s","type":"nominal","scale":{"domain":["1","2","3","4","5","6","7","8","9","11","12"],"range":["#000000","#ff0000","#0000ff","#00dd00","#ff00ff","#808000","#000080","#008000","#008080","#ff8000","#8000ff"]},"legend":null}}},
    {"transform":[{"filter":"indexof(['3','5','6','7','8','9'],datum.s)>=0"}],"mark":{"type":"point","filled":true,"opacity":1,"strokeWidth":0,"size":140},
     "encoding":{"y":{"field":"s","type":"nominal","scale":{"type":"point","domain":["1","2","3","4","5","6","7","8","9","11","12"],"range":[-6,212],"padding":0},"axis":null},
      "shape":{"field":"s","type":"nominal","scale":{"domain":["3","5","6","7","8","9"],"range":["M-1,-0.75L0,-0.75L0,1Z","M-1,0L0,-0.556L0,0.556Z","M1,0L-0.8,-1L-0.8,0Z","M0,-1L-0.87,-0.5L-0.87,0.5L0,1Z","M0,-1L0.95,-0.31L0.59,0.81L0,0.81Z","M0,-1L0.235,-0.324L0.951,-0.309L0.38,0.124L0.588,0.809L0,0.4Z"]},"legend":null},
      "fill":{"field":"s","type":"nominal","scale":{"domain":["1","2","3","4","5","6","7","8","9","11","12"],"range":["#000000","#ff0000","#0000ff","#00dd00","#ff00ff","#808000","#000080","#008000","#008080","#ff8000","#8000ff"]},"legend":null}}},
    {"transform":[{"filter":"datum.s=='11'"}],"mark":{"type":"point","shape":"circle","filled":true,"opacity":1,"strokeWidth":0,"size":140,"fill":{"gradient":"radial","x1":0.35,"y1":0.3,"r1":0,"x2":0.5,"y2":0.5,"r2":0.5,"stops":[{"offset":0,"color":"#fff0d8"},{"offset":0.35,"color":"#ffa030"},{"offset":1,"color":"#e86a00"}]}},
     "encoding":{"y":{"field":"s","type":"nominal","scale":{"type":"point","domain":["1","2","3","4","5","6","7","8","9","11","12"],"range":[-6,212],"padding":0},"axis":null}}},
    {"mark":{"type":"text","fontSize":15,"dx":18,"align":"center","baseline":"middle"},
     "encoding":{"y":{"field":"s","type":"nominal","scale":{"type":"point","domain":["1","2","3","4","5","6","7","8","9","11","12"],"range":[-6,212],"padding":0},"axis":null},"text":{"value":"A"},
      "fill":{"field":"s","type":"nominal","scale":{"domain":["1","2","3","4","5","6","7","8","9","11","12"],"range":["#000000","#ff0000","#0000ff","#00dd00","#ff00ff","#808000","#000080","#008000","#008080","#ff8000","#8000ff"]},"legend":null}}},
    {"mark":{"type":"text","fontSize":9,"dx":23,"dy":-8,"align":"left","baseline":"middle"},
     "encoding":{"y":{"field":"s","type":"nominal","scale":{"type":"point","domain":["1","2","3","4","5","6","7","8","9","11","12"],"range":[-6,212],"padding":0},"axis":null},"text":{"field":"s"},
      "fill":{"field":"s","type":"nominal","scale":{"domain":["1","2","3","4","5","6","7","8","9","11","12"],"range":["#000000","#ff0000","#0000ff","#00dd00","#ff00ff","#808000","#000080","#008000","#008080","#ff8000","#8000ff"]},"legend":null}}},
    {"mark":{"type":"text","fontSize":9,"dx":21,"dy":8,"align":"left","baseline":"middle"},
     "encoding":{"y":{"field":"s","type":"nominal","scale":{"type":"point","domain":["1","2","3","4","5","6","7","8","9","11","12"],"range":[-6,212],"padding":0},"axis":null},"text":{"value":"g"},
      "fill":{"field":"s","type":"nominal","scale":{"domain":["1","2","3","4","5","6","7","8","9","11","12"],"range":["#000000","#ff0000","#0000ff","#00dd00","#ff00ff","#808000","#000080","#008000","#008080","#ff8000","#8000ff"]},"legend":null}}}
   ]}
 ],"spacing":0,"bounds":"flush","resolve":{"scale":{"shape":"independent"}}}
],"spacing":9,"resolve":{"scale":{"shape":"independent"}}}
]
}
